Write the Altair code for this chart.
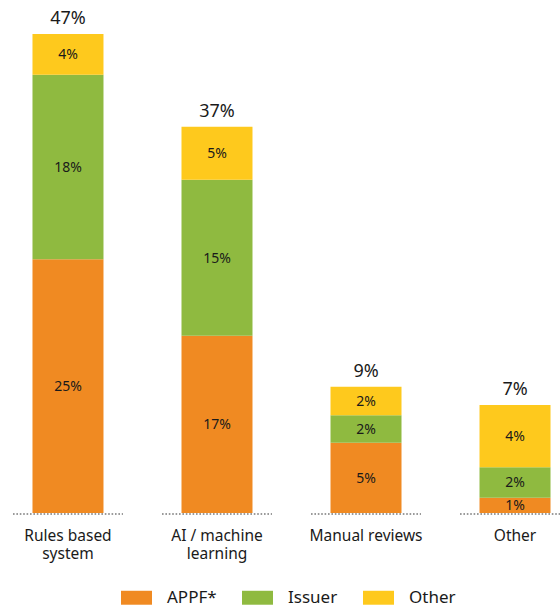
import json
import altair as alt
import pandas as pd

# ---------------- data ----------------
categories = ["Rules based system", "AI / machine learning", "Manual reviews", "Other"]
axis_lines = [["Rules based", "system"], ["AI / machine", "learning"], ["Manual reviews"], ["Other"]]
series = ["APPF*", "Issuer", "Other"]
colors = ["#F08A22", "#8FBA40", "#FEC91D"]

# printed labels (%)
appf_label = [25, 17, 5, 1]
issuer_label = [18, 15, 2, 2]
other_label = [4, 5, 2, 4]
total_label = [47, 37, 9, 7]

# drawn segment heights (% units)
appf_height = [24.9, 17.4, 6.9, 1.5]
issuer_height = [18.1, 15.3, 2.7, 3.0]
other_height = [4.0, 5.2, 2.8, 6.1]

# ---------------- tables ----------------
rows = []
for i, cat in enumerate(categories):
    for j, (s, h, lab) in enumerate(zip(series,
                                        [appf_height[i], issuer_height[i], other_height[i]],
                                        [appf_label[i], issuer_label[i], other_label[i]])):
        rows.append({"cat": cat, "series": s, "idx": j, "height": h, "lab": f"{lab}%"})
seg = pd.DataFrame(rows)

tot = pd.DataFrame({
    "cat": categories,
    "top": [a + b + c for a, b, c in zip(appf_height, issuer_height, other_height)],
    "lab": [f"{v}%" for v in total_label],
})
base_df = pd.DataFrame({"cat": categories, "zero": [0] * len(categories)})

FONT = "Noto Sans"
TXT = "#1a1a1a"

label_expr = ""
for cat, lines in zip(categories, axis_lines):
    label_expr += f"datum.value === '{cat}' ? {json.dumps(lines)} : "
label_expr += "datum.value"

xscale = alt.Scale(domain=categories, paddingInner=0.262, paddingOuter=0)
xaxis = alt.Axis(title=None, labelAngle=0, ticks=False, domain=False, grid=False,
                 labelFont=FONT, labelFontSize=15.5, labelColor=TXT, labelPadding=15,
                 labelLineHeight=18, labelExpr=label_expr)
yscale = alt.Scale(domain=[0, 50.34], nice=False, zero=True)

x_enc = alt.X("cat:N", sort=categories, scale=xscale, axis=xaxis)

rule = alt.Chart(base_df).mark_rule(
    stroke="#9a9a9a", strokeDash=[1.6, 1.8], strokeWidth=2,
    xOffset=-55, x2Offset=55, yOffset=1
).encode(
    x=x_enc,
    x2="cat:N",
    y=alt.Y("zero:Q", scale=yscale, axis=None),
)

stacked = alt.Chart(seg).transform_stack(
    stack="height", groupby=["cat"], as_=["y0", "y1"],
    sort=[alt.SortField("idx", order="ascending")],
).transform_calculate(mid="(datum.y0 + datum.y1) / 2")

bars = stacked.mark_bar(width=71).encode(
    x=x_enc,
    y=alt.Y("y0:Q", scale=yscale, axis=None),
    y2="y1:Q",
    color=alt.Color("series:N", scale=alt.Scale(domain=series, range=colors),
                    legend=alt.Legend(orient="none", legendX=108, legendY=582,
                                      direction="horizontal", title=None,
                                      symbolType="M-1,-0.45L1,-0.45L1,0.45L-1,0.45Z",
                                      symbolSize=961, symbolStrokeWidth=0,
                                      labelFont=FONT, labelFontSize=17, labelColor=TXT,
                                      labelOffset=15, columnPadding=25, padding=0)),
)

seg_text = stacked.mark_text(font=FONT, fontSize=14, color=TXT, baseline="middle", dy=1).encode(
    x=x_enc,
    y=alt.Y("mid:Q", scale=yscale, axis=None),
    text="lab:N",
)

tot_text = alt.Chart(tot).mark_text(font=FONT, fontSize=18, color=TXT,
                                     baseline="alphabetic", dy=-10).encode(
    x=x_enc,
    y=alt.Y("top:Q", scale=yscale, axis=None),
    text="lab:N",
)

chart = alt.layer(rule, bars, seg_text, tot_text).properties(
    width=557, height=513,
    autosize=alt.AutoSizeParams(type="none"),
    padding={"left": 13, "top": 0, "right": -10, "bottom": 97},
).configure_view(stroke=None)

chart.save("out.html", embed_options={"renderer": "svg", "actions": False})
